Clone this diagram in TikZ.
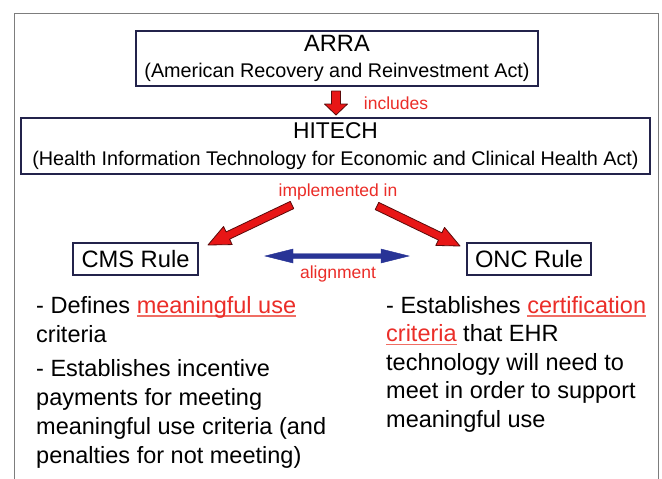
\documentclass[tikz,border=0pt]{standalone}
\usepackage{fontspec}
\setmainfont{Liberation Sans}
\usetikzlibrary{calc}
\definecolor{txtred}{RGB}{235,45,40}
\definecolor{ulred}{RGB}{240,110,100}
\definecolor{arrred}{RGB}{232,22,22}
\definecolor{arrdark}{RGB}{90,10,10}
\definecolor{arrblue}{RGB}{40,52,150}
\definecolor{boxblue}{RGB}{35,35,75}
\definecolor{framegray}{RGB}{125,125,125}
\newcommand\fs[2]{\fontsize{#1}{#2}\selectfont}
\newcommand\redul[1]{\textcolor{txtred}{\setbox0=\hbox{#1}\rlap{\textcolor{ulred}{\rule[-3.5pt]{\wd0}{1.5pt}}}\box0}}
% single block arrow: from, to, shaft half width, head half width, head length, style
\newcommand\sarrow[6]{%
  \coordinate (tmpH) at ($(#2)!#5!(#1)$);
  \path[#6] ($(#1)!#3!90:(#2)$) -- ($(tmpH)!#3!90:(#2)$) -- ($(tmpH)!#4!90:(#2)$) -- (#2)
    -- ($(tmpH)!#4!-90:(#2)$) -- ($(tmpH)!#3!-90:(#2)$) -- ($(#1)!#3!-90:(#2)$) -- cycle;}
% double block arrow
\newcommand\darrow[6]{%
  \coordinate (tmpA) at ($(#1)!#5!(#2)$);
  \coordinate (tmpB) at ($(#2)!#5!(#1)$);
  \path[#6] (#1) -- ($(tmpA)!#4!90:(#2)$) -- ($(tmpA)!#3!90:(#2)$) -- ($(tmpB)!#3!90:(#2)$)
    -- ($(tmpB)!#4!90:(#2)$) -- (#2) -- ($(tmpB)!#4!-90:(#2)$) -- ($(tmpB)!#3!-90:(#2)$)
    -- ($(tmpA)!#3!-90:(#2)$) -- ($(tmpA)!#4!-90:(#2)$) -- cycle;}
\tikzset{
  actbox/.style={draw=boxblue, line width=1.5pt, fill=white, inner sep=0pt, align=center},
  lbl/.style={text=txtred, font=\fs{17.5}{20}, inner sep=0pt},
  bodytxt/.style={align=left, inner sep=0pt, anchor=north west, font=\fs{23.5}{29}},
  redarrow/.style={fill=arrred, draw=arrdark, line width=0.8pt, line join=round},
  bluearrow/.style={fill=arrblue, draw=arrblue, line width=0.4pt}
}
\begin{document}
\begin{tikzpicture}[x=1pt,y=-1pt]
\useasboundingbox (0,0) rectangle (662,479);
\fill[white] (0,0) rectangle (662,479);
\draw[framegray, line width=1pt] (14,479) -- (14,13) -- (658,13) -- (658,479);

\node[actbox, minimum width=402pt, minimum height=55pt, font=\fs{19.8}{26}] (arra) at (337,58.5)
  {{\fs{23.6}{26}ARRA}\\(American Recovery and Reinvestment Act)};
\node[actbox, minimum width=629pt, minimum height=56pt, font=\fs{19.8}{27}] (hitech) at (335.5,146)
  {{\fs{22.8}{27}HITECH}\\(Health Information Technology for Economic and Clinical Health Act)};
\node[actbox, minimum width=125pt, minimum height=32pt, font=\fs{23.7}{26}] (cms) at (135.5,259) {CMS Rule};
\node[actbox, minimum width=124pt, minimum height=32pt, font=\fs{23.7}{26}] (onc) at (529,259) {ONC Rule};

\node[lbl] (incl) at (396,103) {includes};
\node[lbl] (impl) at (338,192) {implemented in};
\node[lbl] (align) at (338,274) {alignment};

\coordinate (d1) at (336,91);
\coordinate (d2) at (336,115);
\coordinate (l1) at (292,205);
\coordinate (l2) at (208,245);
\coordinate (r1) at (377,206);
\coordinate (r2) at (460,246);
\coordinate (b1) at (265,256);
\coordinate (b2) at (409,256);

\sarrow{d1}{d2}{4.5pt}{11.5pt}{11pt}{redarrow}
\sarrow{l1}{l2}{4pt}{10pt}{22pt}{redarrow}
\sarrow{r1}{r2}{4pt}{10pt}{22pt}{redarrow}
\darrow{b1}{b2}{2.5pt}{7pt}{28pt}{bluearrow}

\node[bodytxt] (lefttxt) at (36,296)
  {- Defines \redul{meaningful use}\\
   criteria\\[5pt]
   - Establishes incentive\\
   payments for meeting\\
   meaningful use criteria (and\\
   penalties for not meeting)};
\node[bodytxt, font=\fs{23.5}{28.5}] (righttxt) at (386,296)
  {- Establishes \redul{certification}\\
   \redul{criteria} that EHR\\
   technology will need to\\
   meet in order to support\\
   meaningful use};
\end{tikzpicture}
\end{document}
